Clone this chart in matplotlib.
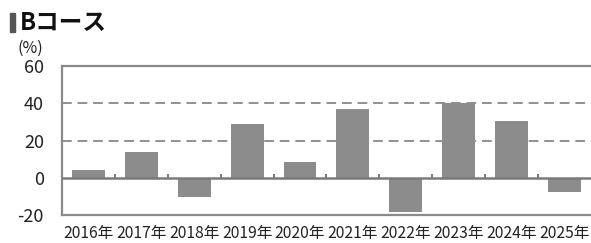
import matplotlib
matplotlib.use("Agg")
import matplotlib.pyplot as plt
from matplotlib.patches import Rectangle

plt.rcParams['font.family'] = ['Noto Sans CJK JP', 'DejaVu Sans']

years = ["2016年", "2017年", "2018年", "2019年", "2020年",
         "2021年", "2022年", "2023年", "2024年", "2025年"]
returns = [4.0, 13.6, -10.5, 28.7, 8.6, 37.1, -18.5, 40.1, 30.5, -7.5]
yticks = [-20, 0, 20, 40, 60]
title = "Bコース"
unit = "(%)"

fig = plt.figure(figsize=(5.91, 2.43), dpi=100)
ax = fig.add_axes([62/591, 28/243, 531/591, 149/243])

x = list(range(len(years)))
ax.bar(x, returns, width=0.62, color="#8c8c8c", zorder=3)
ax.set_xlim(-0.5, len(years) - 0.5 + 0.04)
ax.set_ylim(-20, 60)

for g in [20, 40]:
    ax.axhline(g, color="#909090", lw=1.4, ls=(0, (5, 3)), zorder=1)
ax.axhline(0, color="#7a7a7a", lw=1.8, zorder=4)
ax.vlines([i + 0.5 for i in range(len(years) - 1)], 0, 2.2,
          color="#7a7a7a", lw=1.4, zorder=4)

for s in ax.spines.values():
    s.set_color("#8a8a8a")
    s.set_linewidth(1.6)
ax.spines['right'].set_visible(False)

ax.set_yticks(yticks)
ax.set_yticklabels([str(v) for v in yticks], fontsize=13, color="#222222")
ax.tick_params(axis='y', length=0, pad=13)
ax.set_xticks(x)
ax.set_xticklabels(years, fontsize=11.3, color="#222222")
ax.tick_params(axis='x', length=0, pad=7)

fig.patches.append(Rectangle((10/591, 1 - 32/243), 4.5/591, 19/243,
                             transform=fig.transFigure, color="#555555"))
fig.text(20/591, 1 - 23/243, title, fontsize=17, fontweight='bold',
         va='center', ha='left', color="#111111")
fig.text(30/591, 1 - 48/243, unit, fontsize=11.5, va='center', ha='center',
         color="#222222")

fig.savefig("out.png", dpi=100)
